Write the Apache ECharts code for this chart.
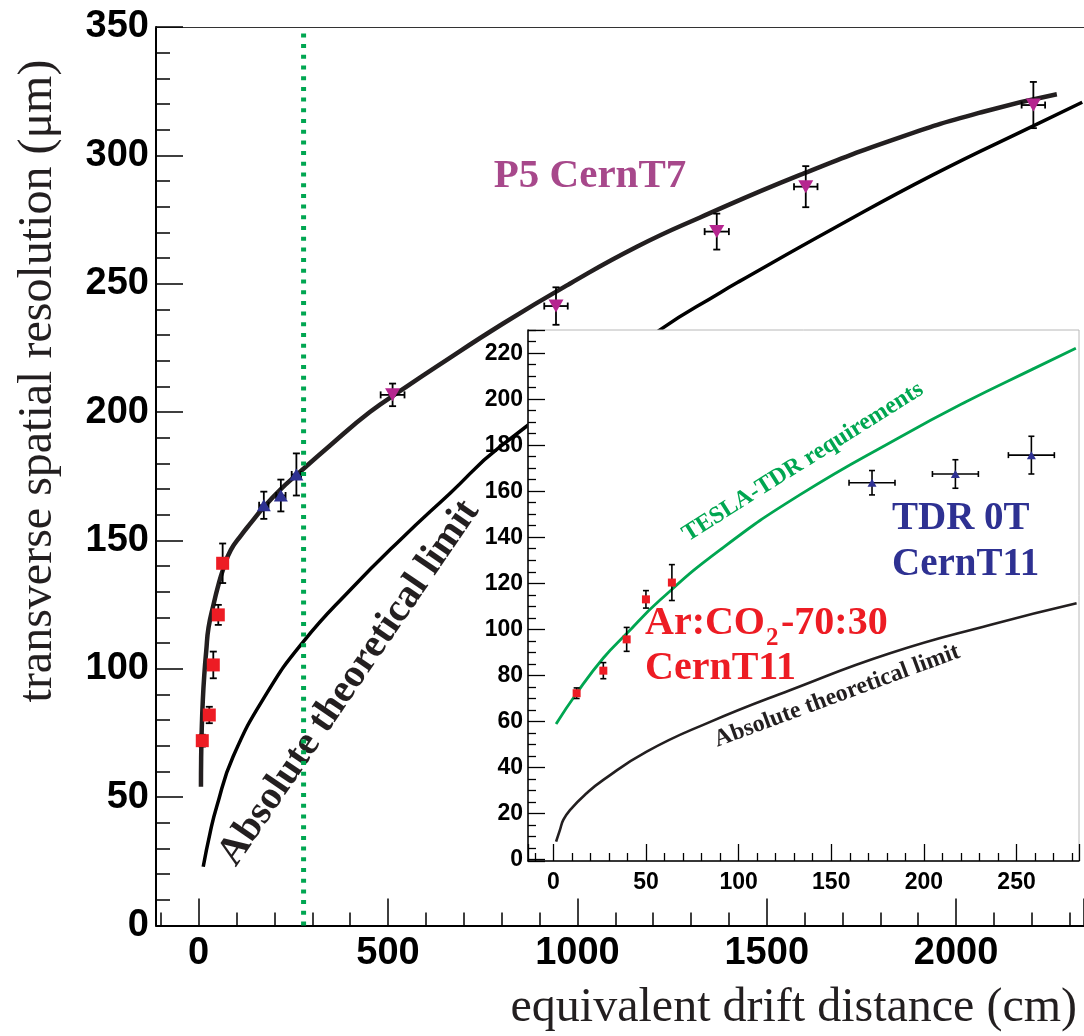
<!DOCTYPE html>
<html><head><meta charset="utf-8">
<script src="https://cdn.jsdelivr.net/npm/echarts@6/dist/echarts.min.js"></script>
<style>html,body{margin:0;padding:0;background:#fff}#c{width:1084px;height:1036px}</style>
</head><body><div id="c"></div>
<script>
// ---------- main plot data ----------
const fitX = [6, 6.5, 8, 11, 15, 20, 26, 40, 50, 65, 85, 112, 140, 171, 215, 259, 347, 452, 540, 628, 804, 980, 1157, 1324, 1588, 1852, 2072, 2266];
const fitY = [54, 65, 76, 88, 98, 107, 116, 125.5, 131.5, 139, 146.3, 152, 157.2, 162.8, 169.7, 175.6, 187, 200, 209, 217.7, 234.5, 250, 264.4, 275.8, 292.4, 307, 317, 323.8];
const limX = [12, 30, 47.5, 91, 180, 276, 400, 532, 664, 796, 1218, 1377, 1429, 1676, 1940, 2204, 2333];
const limY = [22.9, 36, 46.3, 65.8, 90.5, 110.5, 130.7, 150.2, 168.4, 186.5, 232, 246.5, 251, 271.5, 292.5, 311.5, 320.7];
const cutX = 277;              // green dotted vertical line position
const cutY = [0, 350];

const p5X  = [512, 943.5, 1368, 1603, 2204];
const p5Y  = [206.7, 241.3, 270.3, 287.8, 319.6];
const p5Ex = [31.5, 31, 32, 31, 31];
const p5Ey = [4.4, 7.3, 7, 8, 9];

const arMainX  = [9.5, 28, 38.6, 51.8, 63.3];
const arMainY  = [72.0, 82.0, 101.5, 121.0, 141.1];
const arMainEy = [2.3, 3.2, 5.2, 3.9, 7.7];

const tdrX  = [172, 217, 258];
const tdrY  = [163.7, 167.5, 175.7];
const tdrEx = [12.4, 12.4, 12.4];
const tdrEy = [5.3, 6.2, 8.2];

// ---------- inset data ----------
const teslaX = [1.5, 12.6, 27, 39.2, 57.6, 90, 133, 187, 223, 259, 282];
const teslaY = [58.8, 72.2, 87.5, 97.8, 112.7, 134.5, 158.4, 183.5, 199, 213.2, 222.2];
const insLimX = [1.5, 3.6, 5.4, 9, 18, 27, 50.4, 82.8, 127.7, 181.7, 235.6, 282.4];
const insLimY = [7.7, 12.8, 17.1, 21.4, 28.7, 34.5, 46.8, 59.1, 73.5, 89.6, 101.9, 111.3];
const arInsX  = [12.6, 27, 39.6, 50, 64];
const arInsY  = [72.2, 82, 95.6, 113, 120.3];
const arInsEy = [2.3, 3.5, 5.2, 3.8, 7.8];

// ---------- helpers ----------
const zip = (xs, ys) => xs.map((x, i) => [x, ys[i]]);
const errData = (xs, ys, exs, eys) => xs.map((x, i) => [x, ys[i], exs ? exs[i] : 0, eys ? eys[i] : 0]);

const RED = '#ed1c24', BLUE = '#2e3192', MAG = '#b5258f', GREEN = '#00a651', DARK = '#231f20';
const SANS = '"Liberation Sans", Arial, sans-serif';
const SERIF = '"Liberation Serif", "Times New Roman", serif';

function errRender(cap, lw) {
  return function (params, api) {
    const x = api.value(0), y = api.value(1), ex = api.value(2), ey = api.value(3);
    const st = { stroke: '#000', lineWidth: lw };
    const ch = [];
    if (ey > 0) {
      const t = api.coord([x, y + ey]), b = api.coord([x, y - ey]);
      ch.push({ type: 'line', shape: { x1: t[0], y1: t[1], x2: b[0], y2: b[1] }, style: st });
      ch.push({ type: 'line', shape: { x1: t[0] - cap, y1: t[1], x2: t[0] + cap, y2: t[1] }, style: st });
      ch.push({ type: 'line', shape: { x1: b[0] - cap, y1: b[1], x2: b[0] + cap, y2: b[1] }, style: st });
    }
    if (ex > 0) {
      const l = api.coord([x - ex, y]), r = api.coord([x + ex, y]);
      ch.push({ type: 'line', shape: { x1: l[0], y1: l[1], x2: r[0], y2: r[1] }, style: st });
      ch.push({ type: 'line', shape: { x1: l[0], y1: l[1] - cap, x2: l[0], y2: l[1] + cap }, style: st });
      ch.push({ type: 'line', shape: { x1: r[0], y1: r[1] - cap, x2: r[0], y2: r[1] + cap }, style: st });
    }
    return { type: 'group', children: ch };
  };
}

const fmt = v => String(Math.round(v));
const txt = (text, font, fill, align) => ({ text, font, fill, align, verticalAlign: 'middle', textAlign: align, textVerticalAlign: 'middle' });

const chart = echarts.init(document.getElementById('c'), null, { renderer: 'canvas' });
chart.setOption({
  animation: false,
  backgroundColor: '#fff',
  grid: [
    { left: 156, top: 27, right: 0, bottom: 110.5, show: false },
    { left: 528, top: 330, right: 5, bottom: 175, show: true, backgroundColor: '#fff', borderColor: '#b8b8b8', borderWidth: 1, z: 10 }
  ],
  xAxis: [
    { type: 'value', gridIndex: 0, min: -112.7, max: 2337.7, position: 'bottom',
      axisLine: { show: true, onZero: false, lineStyle: { color: '#000', width: 2 } },
      axisTick: { show: true, inside: true, length: 27, lineStyle: { color: '#000', width: 1.5 } },
      minorTick: { show: true, splitNumber: 5, length: 13, lineStyle: { color: '#000', width: 1.5 } },
      splitLine: { show: false }, minorSplitLine: { show: false },
      axisLabel: { show: true, showMinLabel: false, showMaxLabel: false, margin: 9, color: '#000', fontFamily: SANS, fontWeight: 'bold', fontSize: 38, formatter: fmt } },
    { type: 'value', gridIndex: 0, min: -112.7, max: 2337.7, position: 'top',
      axisLine: { show: true, onZero: false, lineStyle: { color: '#333', width: 1 } },
      axisTick: { show: false }, axisLabel: { show: false }, splitLine: { show: false } },
    { type: 'value', gridIndex: 1, min: -13.65, max: 283.7, position: 'bottom', z: 11,
      axisLine: { show: true, onZero: false, lineStyle: { color: '#000', width: 1.5 } },
      axisTick: { show: true, inside: true, length: 17, lineStyle: { color: '#000', width: 1.3 } },
      minorTick: { show: true, splitNumber: 5, length: 8, lineStyle: { color: '#000', width: 1.3 } },
      splitLine: { show: false }, minorSplitLine: { show: false },
      axisLabel: { show: true, showMinLabel: false, showMaxLabel: false, margin: 10, color: '#000', fontFamily: SANS, fontWeight: 'bold', fontSize: 23, formatter: fmt } }
  ],
  yAxis: [
    { type: 'value', gridIndex: 0, min: 0, max: 350, interval: 50,
      axisLine: { show: true, onZero: false, lineStyle: { color: '#000', width: 2 } },
      axisTick: { show: true, inside: true, length: 27, lineStyle: { color: '#000', width: 1.5 } },
      minorTick: { show: true, splitNumber: 5, length: 14, lineStyle: { color: '#000', width: 1.5 } },
      splitLine: { show: false }, minorSplitLine: { show: false },
      axisLabel: { show: true, margin: 7, color: '#000', fontFamily: SANS, fontWeight: 'bold', fontSize: 38, formatter: fmt } },
    { type: 'value', gridIndex: 1, min: -0.75, max: 230.1, splitNumber: 10, z: 11,
      axisLine: { show: true, onZero: false, lineStyle: { color: '#000', width: 1.5 } },
      axisTick: { show: true, inside: true, length: 17, lineStyle: { color: '#000', width: 1.3 } },
      minorTick: { show: true, splitNumber: 4, length: 8, lineStyle: { color: '#000', width: 1.3 } },
      splitLine: { show: false }, minorSplitLine: { show: false },
      axisLabel: { show: true, showMinLabel: false, showMaxLabel: false, margin: 5, color: '#000', fontFamily: SANS, fontWeight: 'bold', fontSize: 23, formatter: fmt } }
  ],
  series: [
    // main plot
    { type: 'line', xAxisIndex: 0, yAxisIndex: 0, data: zip(fitX, fitY), smooth: 0.5, showSymbol: false, z: 2,
      lineStyle: { color: DARK, width: 4.5 } },
    { type: 'line', xAxisIndex: 0, yAxisIndex: 0, data: zip(limX, limY), smooth: 0.5, showSymbol: false, z: 2,
      lineStyle: { color: '#000', width: 3.5 } },
    { type: 'custom', xAxisIndex: 0, yAxisIndex: 0, renderItem: errRender(3.5, 1.8), data: errData(p5X, p5Y, p5Ex, p5Ey), z: 3 },
    { type: 'custom', xAxisIndex: 0, yAxisIndex: 0, renderItem: errRender(3.5, 1.8), data: errData(arMainX, arMainY, null, arMainEy), z: 3 },
    { type: 'custom', xAxisIndex: 0, yAxisIndex: 0, renderItem: errRender(3.5, 1.8), data: errData(tdrX, tdrY, tdrEx, tdrEy), z: 3 },
    { type: 'scatter', xAxisIndex: 0, yAxisIndex: 0, data: zip(p5X, p5Y), symbol: 'triangle', symbolRotate: 180, symbolSize: [15, 13],
      itemStyle: { color: MAG, opacity: 1 }, z: 4 },
    { type: 'scatter', xAxisIndex: 0, yAxisIndex: 0, data: zip(arMainX, arMainY), symbol: 'rect', symbolSize: 13,
      itemStyle: { color: RED, opacity: 1 }, z: 4 },
    { type: 'scatter', xAxisIndex: 0, yAxisIndex: 0, data: zip(tdrX, tdrY), symbol: 'triangle', symbolSize: [14, 12],
      itemStyle: { color: BLUE, opacity: 1 }, z: 4 },
    { type: 'line', xAxisIndex: 0, yAxisIndex: 0, data: cutY.map(y => [cutX, y]), showSymbol: false, z: 5,
      lineStyle: { color: GREEN, width: 5, type: [4, 6.7], cap: 'butt' } },
    // inset
    { type: 'line', xAxisIndex: 2, yAxisIndex: 1, data: zip(teslaX, teslaY), smooth: 0.5, showSymbol: false, z: 12,
      lineStyle: { color: GREEN, width: 2.8 } },
    { type: 'line', xAxisIndex: 2, yAxisIndex: 1, data: zip(insLimX, insLimY), smooth: 0.5, showSymbol: false, z: 12,
      lineStyle: { color: DARK, width: 2.6 } },
    { type: 'custom', xAxisIndex: 2, yAxisIndex: 1, renderItem: errRender(3, 1.6), data: errData(arInsX, arInsY, null, arInsEy), z: 13 },
    { type: 'custom', xAxisIndex: 2, yAxisIndex: 1, renderItem: errRender(3, 1.6), data: errData(tdrX, tdrY, tdrEx, tdrEy), z: 13 },
    { type: 'scatter', xAxisIndex: 2, yAxisIndex: 1, data: zip(arInsX, arInsY), symbol: 'rect', symbolSize: 8,
      itemStyle: { color: RED, opacity: 1 }, z: 14 },
    { type: 'scatter', xAxisIndex: 2, yAxisIndex: 1, data: zip(tdrX, tdrY), symbol: 'triangle', symbolSize: [9, 8],
      itemStyle: { color: BLUE, opacity: 1 }, z: 14 }
  ],
  graphic: { elements: [
    { type: 'text', x: 38, y: 381, rotation: Math.PI / 2, z: 20,
      style: txt('transverse spatial resolution (\u03bcm)', 'normal 48px ' + SERIF, DARK, 'center') },
    { type: 'text', x: 1077, y: 1008, z: 20,
      style: txt('equivalent drift distance (cm)', 'normal 48px ' + SERIF, DARK, 'right') },
    { type: 'text', x: 590, y: 176, z: 3,
      style: txt('P5 CernT7', 'bold 41px ' + SERIF, '#a7488b', 'center') },
    { type: 'text', x: 349, y: 683, rotation: 55.7 * Math.PI / 180, z: 3,
      style: txt('Absolute theoretical limit', 'bold 40px ' + SERIF, DARK, 'center') },
    { type: 'text', x: 803, y: 462, rotation: 32.2 * Math.PI / 180, z: 20,
      style: txt('TESLA-TDR requirements', 'bold 24px ' + SERIF, GREEN, 'center') },
    { type: 'text', x: 837, y: 696, rotation: 20.2 * Math.PI / 180, z: 20,
      style: txt('Absolute theoretical limit', 'bold 24px ' + SERIF, DARK, 'center') },
    { type: 'text', x: 892, y: 519, z: 20, style: txt('TDR 0T', 'bold 39px ' + SERIF, BLUE, 'left') },
    { type: 'text', x: 892, y: 565, z: 20, style: txt('CernT11', 'bold 39px ' + SERIF, BLUE, 'left') },
    { type: 'text', x: 645, y: 624, z: 20, style: txt('Ar:CO', 'bold 40px ' + SERIF, RED, 'left') },
    { type: 'text', x: 766, y: 639, z: 20, style: txt('2', 'bold 25px ' + SERIF, RED, 'left') },
    { type: 'text', x: 781, y: 624, z: 20, style: txt('-70:30', 'bold 40px ' + SERIF, RED, 'left') },
    { type: 'text', x: 645, y: 669, z: 20, style: txt('CernT11', 'bold 40px ' + SERIF, RED, 'left') }
  ] }
});
</script>
</body></html>
